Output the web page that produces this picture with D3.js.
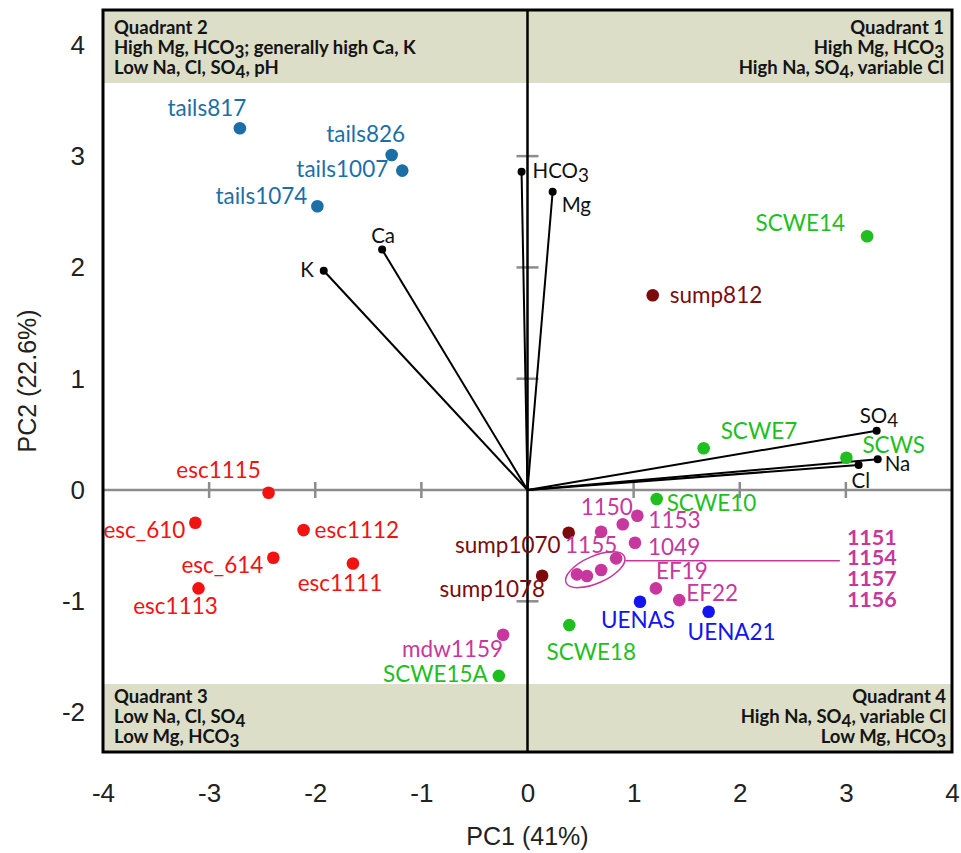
<!DOCTYPE html>
<html>
<head>
<meta charset="utf-8">
<script src="https://cdn.jsdelivr.net/npm/d3@7"></script>
<style>
  html, body { margin: 0; padding: 0; background: #fff; }
  svg { display: block; }
</style>
</head>
<body>
<svg id="chart" width="961" height="853"></svg>
<script>
// ---- PCA biplot data -------------------------------------------------------
// Sample scores (PC1, PC2)
const sampleIds = ["tails817","tails826","tails1007","tails1074",
  "SCWE14","SCWE7","SCWS","SCWE10","SCWE18","SCWE15A",
  "esc1115","esc_610","esc1112","esc_614","esc1111","esc1113",
  "sump812","sump1070","sump1078",
  "mdw1159","1155","1150","1153","1049","1151","1154","1157","1156","EF19","EF22",
  "UENAS","UENA21"];
const samplePC1 = [-2.71,-1.28,-1.18,-1.98,
  3.20,1.66,3.005,1.217,0.394,-0.27,
  -2.44,-3.13,-2.11,-2.395,-1.645,-3.10,
  1.18,0.388,0.138,
  -0.23,0.694,0.898,1.035,1.013,0.835,0.694,0.56,0.466,1.21,1.43,
  1.06,1.707];
const samplePC2 = [3.25,3.01,2.87,2.55,
  2.28,0.375,0.29,-0.081,-1.214,-1.67,
  -0.024,-0.294,-0.36,-0.609,-0.66,-0.884,
  1.75,-0.384,-0.77,
  -1.30,-0.375,-0.308,-0.231,-0.474,-0.614,-0.719,-0.773,-0.758,-0.884,-0.989,
  -1.004,-1.094];
const sampleGroup = ["tails","tails","tails","tails",
  "scwe","scwe","scwe","scwe","scwe","scwe",
  "esc","esc","esc","esc","esc","esc",
  "sump","sump","sump",
  "mdw","mdw","mdw","mdw","mdw","mdw","mdw","mdw","mdw","mdw","mdw",
  "uena","uena"];

// Samples grouped in the ellipse, named in the side list
const clusterIds = ["1151","1154","1157","1156"];

// Variable loadings (PC1, PC2)
const variableNames = ["HCO_3","Mg","Ca","K","SO_4","Na","Cl"];
const loadPC1 = [-0.056,0.237,-1.37,-1.92,3.29,3.30,3.12];
const loadPC2 = [2.86,2.68,2.16,1.97,0.533,0.276,0.225];

// Axis ticks
const xTicks = [-4,-3,-2,-1,0,1,2,3,4];
const yTicks = [-2,-1,0,1,2,3,4];

// Quadrant notes
const quadrantNotes = {
  q2: ["Quadrant 2","High Mg, HCO_3; generally high Ca, K","Low Na, Cl, SO_4, pH"],
  q1: ["Quadrant 1","High Mg, HCO_3","High Na, SO_4, variable Cl"],
  q3: ["Quadrant 3","Low Na, Cl, SO_4","Low Mg, HCO_3"],
  q4: ["Quadrant 4","High Na, SO_4, variable Cl","Low Mg, HCO_3"]
};

// ---- styling -----------------------------------------------------------
const groupColor = {
  tails: "#1c6fa6", scwe: "#1fbf1f", esc: "#f21212",
  sump: "#7c0c0c", mdw: "#c8379e", uena: "#1414f0"
};
// label placement relative to each dot: [dx, dy, anchor]
const labelPlace = {
  tails817:[-33,-12,"middle"], tails826:[-26,-13,"middle"], tails1007:[-14,6,"end"], tails1074:[-10,-2,"end"],
  SCWE14:[-22,-5,"end"], SCWE7:[17,-9,"start"], SCWS:[16,-5,"start"], SCWE10:[10,12,"start"],
  SCWE18:[22,35,"middle"], SCWE15A:[-11,6,"end"],
  esc1115:[-50,-15,"middle"], esc_610:[-10,15,"end"], esc1112:[11,8,"start"], esc_614:[-10,15,"end"],
  esc1111:[-13,28,"middle"], esc1113:[-23,26,"middle"],
  sump812:[17,8,"start"], sump1070:[-8,20,"end"], sump1078:[3,21,"end"],
  mdw1159:[0,22,"end"], "1155":[-10,21,"middle"], "1150":[-16,-9,"middle"], "1153":[11,12,"start"],
  "1049":[13,12,"start"], EF19:[0,-9,"start"], EF22:[7,1,"start"],
  UENAS:[-2,26,"middle"], UENA21:[23,28,"middle"]
};
const loadPlace = {
  "HCO_3":[11,6,"start"], Mg:[9,20,"start"], Ca:[1,-7,"middle"], K:[-10,6,"end"],
  "SO_4":[-17,-8,"start"], Na:[7,12,"start"], Cl:[-7,23,"start"]
};

const labelFont = "Lato, 'Open Sans', sans-serif";
const axisFont = "'Liberation Sans', Arial, sans-serif";

// ---- scales --------------------------------------------------------------
const svg = d3.select("#chart");
const x = d3.scaleLinear().domain([-4, 4]).range([103, 952]);
const y = d3.scaleLinear().domain([-2.354, 4.313]).range([752, 10]);
const [x0, x1] = x.range();
const [yb, yt] = y.range();

// text with "_n" subscripts
function richText(sel, str, size) {
  const parts = str.split(/(_\d)/).filter(p => p.length);
  let lowered = false;
  parts.forEach(p => {
    if (p[0] === "_") {
      sel.append("tspan").attr("dy", size * 0.22).attr("font-size", size * 0.92).text(p.slice(1));
      lowered = true;
    } else {
      const t = sel.append("tspan").text(p);
      if (lowered) { t.attr("dy", -size * 0.22); lowered = false; }
    }
  });
}

// ---- quadrant bands ------------------------------------------------------
const bandTop = 3.657, bandBottom = -1.743;
svg.append("rect").attr("x", x0).attr("y", yt)
  .attr("width", x1 - x0).attr("height", y(bandTop) - yt).attr("fill", "#dcdec8");
svg.append("rect").attr("x", x0).attr("y", y(bandBottom))
  .attr("width", x1 - x0).attr("height", yb - y(bandBottom)).attr("fill", "#dcdec8");

// quadrant notes
const qSize = 18.5;
function notes(lines, xPos, firstBaseline, anchor) {
  lines.forEach((ln, i) => {
    const t = svg.append("text").attr("x", xPos).attr("y", firstBaseline + i * 20)
      .attr("text-anchor", anchor).attr("font-family", labelFont)
      .attr("font-weight", 700).attr("font-size", qSize).attr("fill", "#141414");
    richText(t, ln, qSize);
  });
}
notes(quadrantNotes.q2, x0 + 11, 34, "start");
notes(quadrantNotes.q1, x1 - 8, 34, "end");
notes(quadrantNotes.q3, x0 + 11, 703, "start");
notes(quadrantNotes.q4, x1 - 6, 703, "end");

// ---- zero axes with ticks --------------------------------------------------
svg.append("line").attr("x1", x0).attr("x2", x1).attr("y1", y(0)).attr("y2", y(0))
  .attr("stroke", "#8c8c8c").attr("stroke-width", 2.5);
svg.selectAll("line.xt").data(xTicks.filter(v => v !== 0 && Math.abs(v) < 4)).join("line")
  .attr("class", "xt").attr("x1", d => x(d)).attr("x2", d => x(d))
  .attr("y1", y(0) - 8).attr("y2", y(0) + 8).attr("stroke", "#8c8c8c").attr("stroke-width", 2.5);
svg.selectAll("line.yt").data([-1, 1, 2, 3]).join("line")
  .attr("class", "yt").attr("x1", x(0) - 11).attr("x2", x(0) + 11)
  .attr("y1", d => y(d)).attr("y2", d => y(d)).attr("stroke", "#8c8c8c").attr("stroke-width", 2.5);
svg.append("line").attr("x1", x(0)).attr("x2", x(0)).attr("y1", yt).attr("y2", yb)
  .attr("stroke", "#000").attr("stroke-width", 2.5);

// ---- loading vectors -------------------------------------------------------
const loadings = variableNames.map((n, i) => ({ name: n, px: loadPC1[i], py: loadPC2[i] }));
svg.selectAll("line.load").data(loadings).join("line").attr("class", "load")
  .attr("x1", x(0)).attr("y1", y(0)).attr("x2", d => x(d.px)).attr("y2", d => y(d.py))
  .attr("stroke", "#000").attr("stroke-width", 2);
svg.selectAll("circle.load").data(loadings).join("circle").attr("class", "load")
  .attr("cx", d => x(d.px)).attr("cy", d => y(d.py)).attr("r", 4).attr("fill", "#000");
loadings.forEach(d => {
  const p = loadPlace[d.name];
  const t = svg.append("text").attr("x", x(d.px) + p[0]).attr("y", y(d.py) + p[1])
    .attr("text-anchor", p[2]).attr("font-family", labelFont).attr("font-size", 20.5).attr("fill", "#111");
  richText(t, d.name, 20.5);
});

// ---- samples ---------------------------------------------------------------
const samples = sampleIds.map((id, i) => ({ id, px: samplePC1[i], py: samplePC2[i], g: sampleGroup[i] }));

// ellipse around the clustered samples and leader to the name list
const clus = samples.filter(d => clusterIds.includes(d.id));
const cx = d3.mean(clus, d => x(d.px)), cy = d3.mean(clus, d => y(d.py));
svg.append("ellipse").attr("cx", cx).attr("cy", cy).attr("rx", 32).attr("ry", 13.5)
  .attr("transform", `rotate(-24 ${cx} ${cy})`)
  .attr("fill", "none").attr("stroke", groupColor.mdw).attr("stroke-width", 1.5);
const listX = x(3) + 1;
svg.append("line").attr("x1", cx + 30).attr("x2", listX - 7)
  .attr("y1", cy - 9).attr("y2", cy - 9)
  .attr("stroke", groupColor.mdw).attr("stroke-width", 1.5);
svg.selectAll("text.clist").data(clusterIds).join("text").attr("class", "clist")
  .attr("x", listX).attr("y", (d, i) => cy - 25 + i * 20.8)
  .attr("font-family", labelFont).attr("font-weight", 700).attr("font-size", 21.5)
  .attr("fill", groupColor.mdw).text(d => d);

svg.selectAll("circle.pt").data(samples).join("circle").attr("class", "pt")
  .attr("cx", d => x(d.px)).attr("cy", d => y(d.py)).attr("r", 6.3)
  .attr("fill", d => groupColor[d.g]);

svg.selectAll("text.pt").data(samples.filter(d => labelPlace[d.id])).join("text").attr("class", "pt")
  .attr("x", d => x(d.px) + labelPlace[d.id][0]).attr("y", d => y(d.py) + labelPlace[d.id][1])
  .attr("text-anchor", d => labelPlace[d.id][2])
  .attr("font-family", labelFont).attr("font-size", 22.5)
  .attr("fill", d => groupColor[d.g]).text(d => d.id);

// ---- frame -----------------------------------------------------------------
svg.append("rect").attr("x", x0).attr("y", yt).attr("width", x1 - x0).attr("height", yb - yt)
  .attr("fill", "none").attr("stroke", "#000").attr("stroke-width", 3);

// ---- axes ------------------------------------------------------------------
const plainNum = d => String(d);
const xAxis = svg.append("g").attr("transform", `translate(0,${yb})`)
  .call(d3.axisBottom(x).tickValues(xTicks).tickSize(0).tickPadding(32).tickFormat(plainNum));
const yAxis = svg.append("g").attr("transform", `translate(${x0},0)`)
  .call(d3.axisLeft(y).tickValues(yTicks).tickSize(0).tickPadding(18).tickFormat(plainNum));
[xAxis, yAxis].forEach(a => {
  a.select(".domain").remove();
  a.selectAll("text").attr("font-family", axisFont).attr("font-size", 26).attr("fill", "#222");
});

svg.append("text").attr("x", x(0)).attr("y", 845).attr("text-anchor", "middle")
  .attr("font-family", axisFont).attr("font-size", 25).attr("fill", "#222").text("PC1 (41%)");
svg.append("text").attr("transform", `translate(36,${y(0.98)}) rotate(-90)`).attr("text-anchor", "middle")
  .attr("font-family", axisFont).attr("font-size", 25).attr("fill", "#222").text("PC2 (22.6%)");
</script>
</body>
</html>
